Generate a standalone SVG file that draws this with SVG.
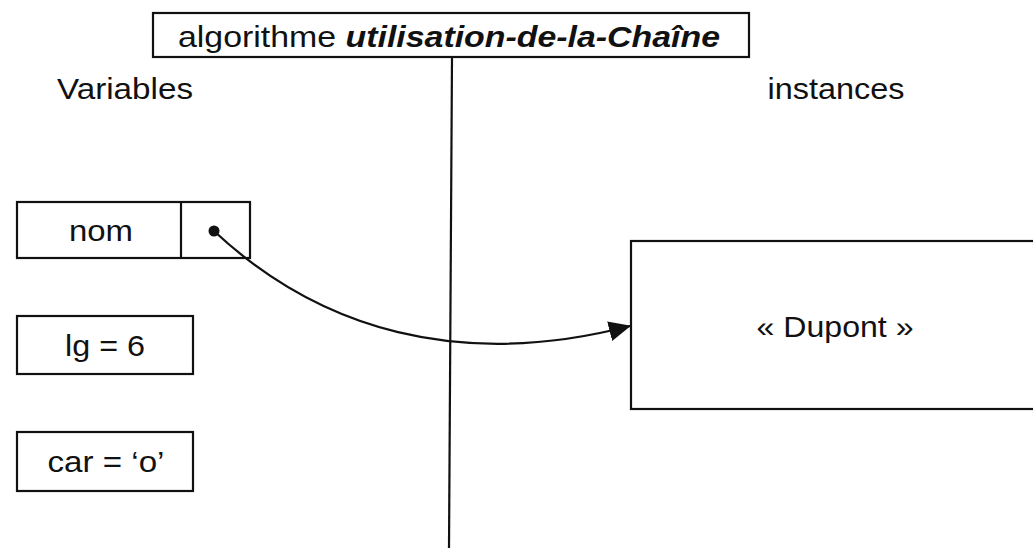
<svg xmlns="http://www.w3.org/2000/svg" width="1033" height="548" viewBox="0 0 1033 548">
<style>
text{font-family:"Liberation Sans",Arial,sans-serif;font-size:30px;fill:#111}
.box{fill:#fff;stroke:#111;stroke-width:2.2}
.mid{text-anchor:middle}
</style>
<defs>
<marker id="arr" markerWidth="22" markerHeight="20" refX="21" refY="10" orient="auto" markerUnits="userSpaceOnUse" viewBox="0 0 22 20">
<path d="M0,0 L22,10 L0,20 z" fill="#111"/>
</marker>
</defs>
<rect width="1033" height="548" fill="#fff"/>
<g id="title">
<rect class="box" x="153" y="13" width="596" height="44"/>
<text x="449" y="47" class="mid" textLength="542" lengthAdjust="spacingAndGlyphs">algorithme <tspan font-weight="bold" font-style="italic">utilisation-de-la-Chaîne</tspan></text>
</g>
<g id="divider">
<line x1="452" y1="57" x2="449" y2="548" stroke="#111" stroke-width="2.2"/>
</g>
<g id="labels">
<text x="125" y="99" class="mid" textLength="136" lengthAdjust="spacingAndGlyphs">Variables</text>
<text x="836" y="99" class="mid" textLength="137" lengthAdjust="spacingAndGlyphs">instances</text>
</g>
<g id="nom">
<rect class="box" x="17" y="202" width="233" height="56"/>
<line x1="181" y1="202" x2="181" y2="258" stroke="#111" stroke-width="2.2"/>
<text x="101" y="241" class="mid" textLength="64" lengthAdjust="spacingAndGlyphs">nom</text>
<circle cx="214" cy="231" r="5.5" fill="#111"/>
</g>
<g id="lg">
<rect class="box" x="17" y="316" width="176" height="58"/>
<text x="105" y="356" class="mid" textLength="80" lengthAdjust="spacingAndGlyphs">lg = 6</text>
</g>
<g id="car">
<rect class="box" x="17" y="432" width="176" height="59"/>
<text x="106" y="472" class="mid" textLength="117" lengthAdjust="spacingAndGlyphs">car = ‘o’</text>
</g>
<g id="dupont">
<rect class="box" x="631" y="241" width="410" height="168"/>
<text x="835" y="337" class="mid" textLength="157" lengthAdjust="spacingAndGlyphs">« Dupont »</text>
</g>
<g id="connectors">
<path d="M214,231 C320,330 460,370 630,326" fill="none" stroke="#111" stroke-width="2.2" marker-end="url(#arr)"/>
</g>
</svg>
